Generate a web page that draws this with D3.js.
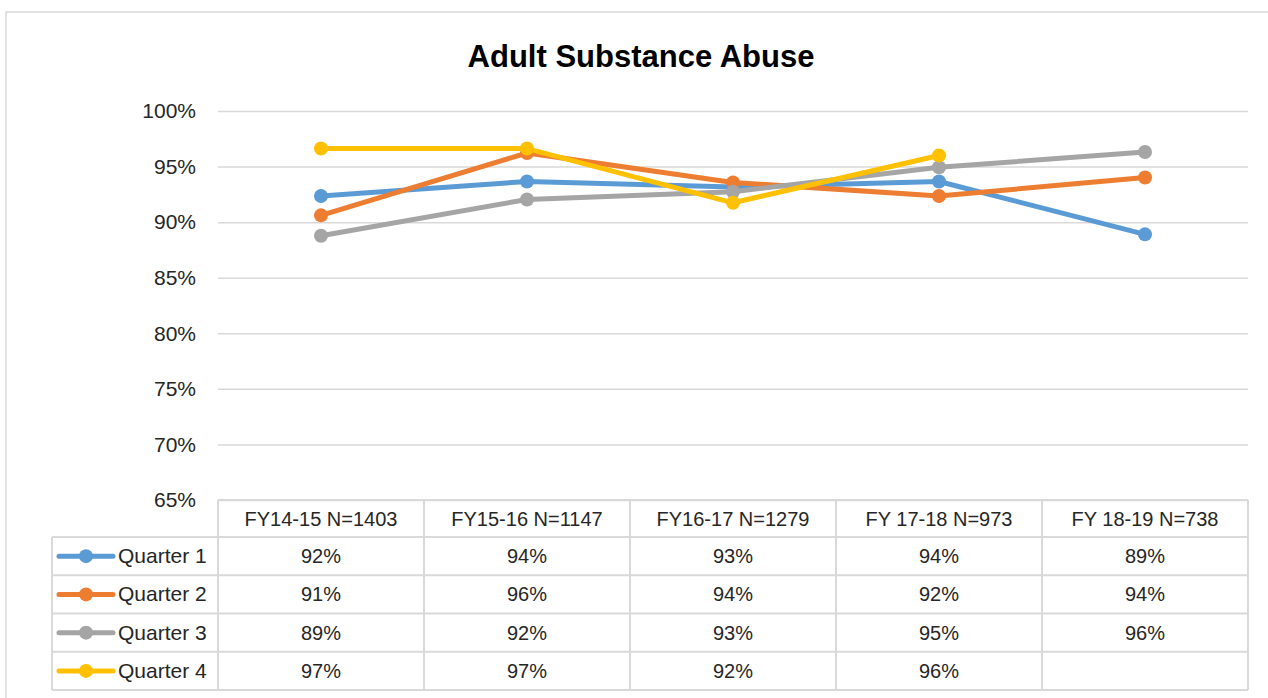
<!DOCTYPE html>
<html>
<head>
<meta charset="utf-8">
<script src="https://cdn.jsdelivr.net/npm/d3@7"></script>
<style>
  body { margin: 0; background: #fff; }
  text { font-family: "Liberation Sans", Arial, sans-serif; fill: #262626; }
</style>
</head>
<body>
<section></section>
<script>
const categories = ["FY14-15 N=1403", "FY15-16 N=1147", "FY16-17 N=1279", "FY 17-18 N=973", "FY 18-19 N=738"];
const seriesNames = ["Quarter 1", "Quarter 2", "Quarter 3", "Quarter 4"];
const quarter1 = [0.9235, 0.9366, 0.9317, 0.9366, 0.889];
const quarter2 = [0.9061, 0.9622, 0.9357, 0.9235, 0.9402];
const quarter3 = [0.8878, 0.9204, 0.9274, 0.9494, 0.9631];
const quarter4 = [0.9662, 0.9662, 0.9174, 0.96, null];
const tickValues = [0.65, 0.7, 0.75, 0.8, 0.85, 0.9, 0.95, 1.0];
const colors = ["#5b9bd5", "#ed7d31", "#a5a5a5", "#ffc000"];

const series = [quarter1, quarter2, quarter3, quarter4];

const w = 1268;
const h = 698;
const plotLeft = 218;
const plotRight = 1248;
const plotTop = 111;
const plotBottom = 500;
const tableBottom = 690;
const legendLeft = 52;
const grid = "#d9d9d9";
const pct = d3.format(".0%");

const svg = d3
  .select("section")
  .append("svg")
  .attr("width", w)
  .attr("height", h);

// chart area border
svg
  .append("rect")
  .attr("x", 6)
  .attr("y", 12)
  .attr("width", w + 20)
  .attr("height", h + 20)
  .attr("fill", "#fff")
  .attr("stroke", grid)
  .attr("stroke-width", 1.5);

svg
  .append("text")
  .attr("x", 641)
  .attr("y", 67)
  .attr("text-anchor", "middle")
  .style("font-size", "31px")
  .style("font-weight", "bold")
  .style("fill", "#000")
  .text("Adult Substance Abuse");

const xScale = d3.scaleBand().domain(categories).range([plotLeft, plotRight]);
const yScale = d3.scaleLinear().domain([0.65, 1.0]).range([plotBottom, plotTop]);
const rowScale = d3.scaleBand().domain(seriesNames).range([537, tableBottom]);

// gridlines
svg
  .append("g")
  .attr("transform", `translate(${plotLeft},0)`)
  .call(d3.axisLeft(yScale).tickValues(tickValues).tickSize(-(plotRight - plotLeft)).tickFormat(""))
  .call(g => g.select(".domain").remove())
  .call(g => g.selectAll("line").attr("stroke", grid).attr("stroke-width", 1.5));

// y tick labels
svg
  .append("g")
  .attr("transform", `translate(${plotLeft},0)`)
  .call(d3.axisLeft(yScale).tickValues(tickValues).tickSize(0).tickPadding(22).tickFormat(pct))
  .call(g => g.select(".domain").remove())
  .call(g => g.selectAll("text").style("font-size", "21px").style("font-family", "Liberation Sans, Arial, sans-serif").attr("fill", "#262626"));

// data table grid
const tableLines = svg.append("g").attr("stroke", grid).attr("stroke-width", 2);
tableLines
  .append("line")
  .attr("x1", plotLeft).attr("x2", plotRight)
  .attr("y1", plotBottom).attr("y2", plotBottom);
tableLines
  .selectAll(".row")
  .data(seriesNames)
  .enter()
  .append("line")
  .attr("x1", legendLeft).attr("x2", plotRight)
  .attr("y1", d => rowScale(d)).attr("y2", d => rowScale(d));
tableLines
  .append("line")
  .attr("x1", legendLeft).attr("x2", plotRight)
  .attr("y1", tableBottom).attr("y2", tableBottom);
tableLines
  .append("line")
  .attr("x1", legendLeft).attr("x2", legendLeft)
  .attr("y1", rowScale.range()[0]).attr("y2", tableBottom);
tableLines
  .selectAll(".col")
  .data(categories)
  .enter()
  .append("line")
  .attr("x1", d => xScale(d)).attr("x2", d => xScale(d))
  .attr("y1", plotBottom).attr("y2", tableBottom);
tableLines
  .append("line")
  .attr("x1", plotRight).attr("x2", plotRight)
  .attr("y1", plotBottom).attr("y2", tableBottom);

// header labels
svg
  .selectAll(".header")
  .data(categories)
  .enter()
  .append("text")
  .attr("x", d => xScale(d) + xScale.bandwidth() / 2)
  .attr("y", (plotBottom + rowScale.range()[0]) / 2 + 7)
  .attr("text-anchor", "middle")
  .style("font-size", "20px")
  .text(d => d);

// lines and markers
const line = d3
  .line()
  .defined(d => d != null)
  .x((d, i) => xScale(categories[i]) + xScale.bandwidth() / 2)
  .y(d => yScale(d));

series.forEach((values, s) => {
  const g = svg.append("g");
  g.append("path")
    .attr("d", line(values))
    .attr("fill", "none")
    .attr("stroke", colors[s])
    .attr("stroke-width", 5)
    .attr("stroke-linejoin", "round");
  g.selectAll("circle")
    .data(values.map((v, i) => ({ v, c: categories[i] })).filter(d => d.v != null))
    .enter()
    .append("circle")
    .attr("cx", d => xScale(d.c) + xScale.bandwidth() / 2)
    .attr("cy", d => yScale(d.v))
    .attr("r", 7)
    .attr("fill", colors[s]);

  // table row
  const rowY = rowScale(seriesNames[s]) + rowScale.bandwidth() / 2;
  g.append("line")
    .attr("x1", 59).attr("x2", 113)
    .attr("y1", rowY).attr("y2", rowY)
    .attr("stroke", colors[s])
    .attr("stroke-width", 5)
    .attr("stroke-linecap", "round");
  g.append("circle")
    .attr("cx", 86)
    .attr("cy", rowY)
    .attr("r", 7)
    .attr("fill", colors[s]);
  g.append("text")
    .attr("x", 118)
    .attr("y", rowY + 7)
    .style("font-size", "21px")
    .text(seriesNames[s]);
  g.selectAll(".cell")
    .data(values.map((v, i) => ({ v, c: categories[i] })))
    .enter()
    .append("text")
    .attr("x", d => xScale(d.c) + xScale.bandwidth() / 2)
    .attr("y", rowY + 7)
    .attr("text-anchor", "middle")
    .style("font-size", "20px")
    .text(d => (d.v == null ? "" : pct(d.v)));
});
</script>
</body>
</html>
